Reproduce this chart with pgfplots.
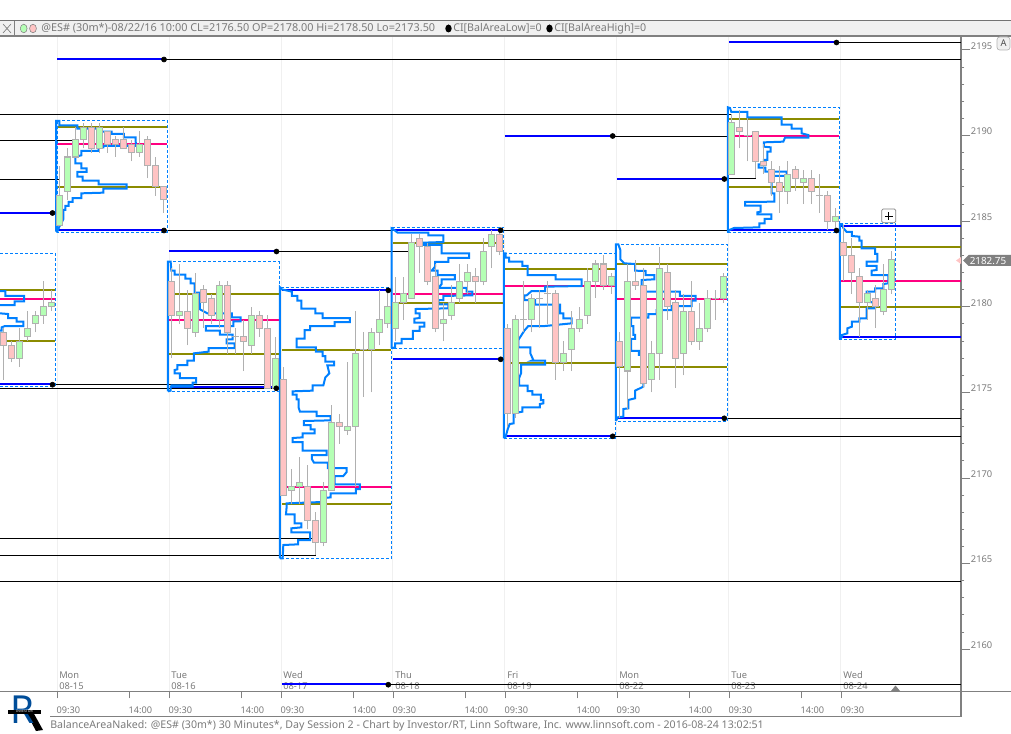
\documentclass[border=0pt]{standalone}
\usepackage{pgfplots}
\usepackage{pgfplotstable}
\usepackage{fontspec}
\pgfplotsset{compat=1.18}
\setmainfont{Noto Sans}
\definecolor{prof}{HTML}{0080FF}
\definecolor{lvl}{HTML}{0000FF}
\definecolor{olv}{HTML}{8B8B00}
\definecolor{mag}{HTML}{FF0080}
\definecolor{upc}{HTML}{B5FFB5}
\definecolor{dnc}{HTML}{FFC4C4}
\definecolor{wick}{HTML}{B0B0B0}
\definecolor{txt}{HTML}{7A7A7A}
\definecolor{axc}{HTML}{808080}
\definecolor{grd}{HTML}{F0F0F0}
% candles: x = bar number (Mon 08-15 09:30 is bar 0), body bottom/top, high, low
\pgfplotstableread{
x b t h l
-5 2177 2178 2178.75 2176.5
-4 2178.25 2178.75 2179.75 2178
-3 2179 2179.5 2179.75 2178.5
-2 2179.5 2180 2181.5 2179
-1 2180 2180.25 2181 2179.75
0 2184.75 2186.5 2188.25 2184.75
1 2186.75 2188.75 2189.25 2186.25
2 2188.75 2189.75 2190.5 2188.75
3 2189.75 2190.5 2190.75 2189.25
5 2189.25 2190.5 2190.75 2189
10 2189 2189.5 2190.25 2188.75
15 2179.5 2179.75 2182.5 2179
17 2178.5 2180.75 2182 2178.25
20 2179.25 2181.25 2181.5 2178.75
24 2177.75 2179.5 2180 2177.25
27 2175.25 2177 2178.25 2175.25
29 2169.25 2169.5 2170.5 2168.5
30 2169.5 2169.75 2171.25 2168.5
33 2166.25 2169.25 2169.75 2166
34 2169.25 2173.25 2174.25 2169.25
36 2172.75 2173 2176.75 2172.5
37 2173 2177.25 2179.75 2169.5
39 2177.5 2178.5 2178.75 2175
40 2178.5 2179.25 2181 2177.75
41 2179 2180 2181 2178.75
42 2178.75 2180.25 2181.75 2178
43 2180.25 2180.75 2181.75 2179.25
44 2180.5 2183.75 2184.25 2180.5
48 2179 2179.25 2180.25 2178
49 2179.5 2180.25 2181.25 2179.25
50 2180.5 2181.5 2182.5 2180.25
51 2181.5 2182 2182.5 2180.75
53 2181.5 2183.25 2184 2181.25
54 2183.5 2184.25 2184.5 2182.25
57 2173.75 2179.25 2179.5 2173.5
59 2179.25 2180.5 2180.75 2178.5
63 2176.75 2177.25 2178 2176.25
64 2177.5 2178.75 2179.75 2176.25
65 2178.75 2179.25 2180 2178.5
66 2179.5 2181.5 2182.25 2179
67 2181.5 2182.5 2182.75 2180.5
69 2181.25 2181.75 2182 2180.75
71 2176.25 2181.5 2182.5 2174
74 2175.75 2177.25 2178 2175
75 2177.25 2182.25 2183.5 2175.75
78 2177.25 2179.75 2180.75 2176
80 2178 2178.75 2180.25 2177.5
81 2178.75 2180.5 2181 2178.5
83 2180.5 2181.75 2182 2180.25
84 2187.75 2190.75 2191.25 2187.75
91 2186.75 2187.75 2188.5 2186
93 2187.25 2187.5 2188 2186
97 2185 2185.25 2185.75 2184.5
101 2180.25 2180.75 2181 2179.25
103 2179.75 2181 2182.5 2179.5
104 2181 2182.75 2183.25 2180.75
}\upbars
\pgfplotstableread{
x b t h l
-7 2177.75 2178.5 2178.75 2175.75
-6 2177 2177.75 2178 2176.75
4 2189.25 2190.5 2190.75 2189
6 2189.5 2190.25 2190.25 2189
7 2189.5 2189.75 2190 2188.75
8 2189.25 2189.75 2190.5 2189.25
9 2189 2189.5 2189.75 2188.5
11 2188.25 2189.75 2190 2187.5
12 2187 2188.25 2188.75 2186.5
13 2186.25 2187 2187 2185.5
14 2179.5 2181.5 2182.25 2177
16 2178.75 2179.75 2181 2177.75
18 2180.25 2181 2181.25 2178.75
19 2179.5 2180.5 2180.75 2179
21 2178.5 2181.25 2181.5 2177.25
22 2178.25 2178.25 2178.75 2177.25
23 2178 2178.25 2179.25 2176.25
25 2178.75 2179.5 2179.75 2178.25
26 2175.25 2178.75 2179.5 2175.25
28 2169 2175.75 2176.5 2169
31 2167.5 2169.5 2170.75 2167
32 2166.25 2167.5 2168 2165.5
35 2173 2173.25 2173.75 2172
38 2177.5 2177.5 2178.5 2174.75
45 2183.5 2184 2184.25 2182
46 2181.5 2183.5 2183.75 2181.25
47 2178.75 2181.75 2182.5 2178.5
52 2181.5 2181.75 2182.25 2180.25
55 2183.25 2184.25 2184.5 2183
56 2173.75 2178.75 2179 2173
58 2179.25 2179.25 2181.5 2178.5
60 2180.5 2180.5 2181 2178.75
61 2180.75 2180.75 2181.5 2179
62 2176.75 2180.75 2181 2175.75
68 2181.25 2182.5 2183 2181
70 2176.5 2178 2178.5 2173.5
72 2181.25 2181.5 2182.75 2181
73 2175.5 2181.25 2182.25 2175.25
76 2180 2182 2182.5 2179.25
77 2177 2180.25 2181 2175.25
79 2178 2179.75 2181.5 2177.75
82 2180.5 2180.5 2181 2179.25
85 2190.25 2190.5 2191.5 2189.25
86 2190 2190 2191 2188.5
87 2188.5 2190.25 2190.25 2187.5
88 2188.25 2188.5 2189.5 2187.75
89 2187.25 2188 2188.5 2186.5
90 2186.75 2187.25 2188.25 2185.5
92 2187.5 2188 2188.25 2186.75
94 2186.75 2187.5 2188 2186
95 2186.5 2186.5 2187.75 2185.5
96 2185 2186.5 2186.75 2184.5
98 2183 2183.75 2184.75 2181.5
99 2182 2183 2184 2180.75
100 2180.25 2181.75 2182.25 2178.25
102 2180 2180.5 2181.25 2178.75
}\dnbars
% overlay levels are traced in screen pixels, zt is for outlines traced on 3x crops
\pgfplotsset{
  table/px/.style={x expr=(\thisrow{x}-59.4)/8, y expr=2195-(\thisrow{y}-50)/17.12},
  table/zt/.style 2 args={x expr=(#1+\thisrow{x}/3-59.4)/8, y expr=2195-(#2+\thisrow{y}/3-50)/17.12},
  cndl/.style 2 args={draw=none, no markers, forget plot,
    error bars/.cd, y dir=plus, y explicit, error mark=none,
    error bar style={draw=#1, line width=#2}},
}
\begin{document}
\begin{tikzpicture}
\useasboundingbox (0,0) rectangle (758.25pt,549.75pt);
\begin{scope}[x=0.75pt,y=-0.75pt,yshift=549.75pt,font=\fontsize{7pt}{8pt}\selectfont,text=txt]
  \foreach \d/\n/\x in {Mon/08-15/59,Tue/08-16/171,Wed/08-17/283,Thu/08-18/395,Fri/08-19/507,Mon/08-22/619,Tue/08-23/731,Wed/08-24/843}{
    \node[anchor=west,inner sep=0pt] at (\x,675) {\d};
    \node[anchor=west,inner sep=0pt] at (\x,686) {\n};
  }
\end{scope}
\begin{axis}[
    at={(0,31.125pt)}, anchor=south west,
    scale only axis, width=720.75pt, height=491.625pt,
    xmin=-7.425, xmax=112.7, ymin=2157.53, ymax=2195.818,
    axis x line*=bottom, axis y line*=right,
    axis line style={draw=axc, line width=1pt},
    every axis y line/.append style={-},
    every axis x line/.append style={-},
    tick align=outside,
    tick style={draw=axc, line width=0.75pt},
    xtick={-0.3,8.7,13.7,22.7,27.7,36.7,41.7,50.7,55.7,64.7,69.7,78.7,83.7,92.7,97.7},
    xticklabels={09:30,14:00,09:30,14:00,09:30,14:00,09:30,14:00,09:30,14:00,09:30,14:00,09:30,14:00,09:30},
    xticklabel style={font=\fontsize{6.9pt}{8pt}\selectfont, text=txt, anchor=north west, inner sep=0pt, yshift=-6.75pt, xshift=-0.5pt},
    xtick style={/pgfplots/major tick length=5.25pt},
    ytick={2160,2165,...,2195},
    minor y tick num=4,
    ytick style={/pgfplots/major tick length=6.75pt, /pgfplots/minor tick length=2.6pt},
    yticklabel style={font=\fontsize{7pt}{8pt}\selectfont, text=txt, inner sep=0pt, xshift=3pt, yshift=3pt,
      /pgf/number format/assume math mode=true, /pgf/number format/set thousands separator={}},
    empty line=jump, unbounded coords=jump,
    clip=true,
  ]
  % session grid
  \addplot[grd, line width=0.75pt, forget plot] table[px] {
x y
57 36
57 691

169 36
169 691

281 36
281 691

393 36
393 691

505 36
505 691

617 36
617 691

729 36
729 691

841 36
841 691
};
  % naked levels, black part
  \addplot[black, line width=0.75pt, forget plot] table[px] {
x y
164 59.5
961 59.5

0 114.3
732 114.3

0 140.3
76 140.3

0 179.3
60 179.3

164 230.5
838 230.5

836 42.5
961 42.5

276 251.5
412 251.5

0 384.7
268 384.7

0 388.3
276 388.3

0 538.7
316 538.7

0 555.3
316 555.3

0 581
961 581

388 684.7
961 684.7

612 436.3
961 436.3

724 418.3
961 418.3

612 136.3
732 136.3

724 179
756 179
};
  % value area high/low
  \addplot[olv, line width=1.5pt, forget plot] table[px] {
x y
57 126.7
167 126.7

57 186.7
167 186.7

0 290
55 290

0 340.7
55 340.7

169 294
279 294

169 354
279 354

282 349.7
391 349.7

282 504
391 504

393 243
504 243

393 303
504 303

505 268.7
615 268.7

505 363
615 363

617 263.7
727 263.7

617 366.7
727 366.7

729 118.7
839 118.7

729 186.7
839 186.7

841 247
961 247

841 306.7
961 306.7
};
  % point of control
  \addplot[mag, line width=1.5pt, forget plot] table[px] {
x y
57 144
167 144

0 299
55 299

169 320
279 320

282 487
391 487

393 294
504 294

505 286
615 286

617 299
727 299

729 136
839 136

841 280.7
961 280.7
};
  % session balance area boxes
  \addplot[prof, line width=0.75pt, dash pattern=on 2.25pt off 1.5pt, forget plot] table[px] {
x y
-10 253.3
55.3 253.3
55.3 386
-10 386

57 120.7
167.3 120.7
167.3 232.3
57 232.3
57 120.7

168.3 261.7
279.3 261.7
279.3 391.3
168.3 391.3
168.3 261.7

280.7 287.3
391.7 287.3
391.7 558.3
280.7 558.3
280.7 287.3

391.7 227.3
504 227.3
504 348.3
391.7 348.3
391.7 227.3

504.3 253.3
615.7 253.3
615.7 438.3
504.3 438.3
504.3 253.3

615.7 244.3
727.3 244.3
727.3 421
615.7 421
615.7 244.3

728 107.3
839.3 107.3
839.3 232.3
728 232.3
728 107.3

840 223.3
895.3 223.3
895.3 339.3
840 339.3
840 223.3
};
  % blue naked level starts
  \addplot[lvl, line width=1.6pt, forget plot] table[px] {
x y
57 59
164 59

0 213
52 213

57 229.7
164 229.7

729 42
836 42

169 251
276 251

393 230
500 230

282 289.7
388 289.7

0 384
52 384

170 387.3
276 387.3

393 359
500 359

505 136
612 136

505.7 436
612.7 436

617 179
724 179

617 418
724 418

729 230
836 230

841 225.7
961 225.7

841 337
961 337

282 684
388 684
};
  % profile outlines, sessions 08-15 to 08-17 etc
  \addplot[prof, line width=1.5pt, forget plot] table[zt={0}{0}] {
x y
168 695
168 363
178 363
178 376
232 376
232 386
296 386
296 395
335 395
335 402
372 402
372 412
407 412
407 426
410 438
310 438
310 442
296 442
296 453
244 453
244 466
226 470
226 490
244 490
244 505
260 505
260 516
232 516
232 530
248 530
248 542
296 542
296 553
380 553
380 566
310 566
310 578
244 580
244 594
218 594
218 606
206 606
206 618
196 618
196 630
190 630
190 658
178 680
172 695
168 695
};
  \addplot[prof, line width=1.5pt, forget plot] table[zt={0}{240}] {
x y
0 153
16 153
16 168
72 168
72 184
44 184
44 195
0 195

0 220
24 222
24 234
50 234
50 245
70 245
70 258
15 258
5 262
5 272
0 272

504 454
504 65
512 65
514 92
524 92
524 104
556 104
556 116
572 116
572 130
584 130
584 158
600 158
600 208
622 220
696 220
696 232
722 232
722 244
700 244
700 258
618 258
618 272
660 272
660 284
698 284
698 298
680 298
680 310
704 310
704 324
626 324
626 335
582 340
582 362
562 362
562 375
532 375
532 388
524 390
524 400
540 400
540 414
588 414
588 428
578 428
578 440
512 440
512 452
504 454

512 436
578 436

840 955
840 142
845 148
876 155
876 168
892 168
892 182
904 182
904 206
946 206
946 220
968 220
968 234
1050 234
1050 246
1004 246
1004 258
930 258
930 270
914 270
914 296
890 296
890 322
948 322
948 335
968 335
968 348
976 348
976 365
1002 365
1002 376
982 376
988 400
976 412
970 436
938 436
938 452
878 454
878 464
890 464
890 478
896 478
896 503
900 515
950 515
950 528
992 528
992 541
912 543
912 555
932 555
932 568
944 568
944 580
908 580
908 592
878 594
878 606
908 606
908 632
980 632
980 645
936 645
936 658
942 668
984 668
984 684
1040 684
1040 696
1030 708
1004 708
1004 733
1080 733
1080 747
1068 747
1068 760
992 760
992 772
966 775
966 786
860 790
860 800
858 823
884 823
884 850
904 850
904 862
874 865
874 877
930 877
930 900
894 900
894 913
850 915
848 955
840 955
};
  \addplot[prof, line width=1.5pt, forget plot] table[zt={385}{220}] {
x y
20 385
20 25
25 28
38 38
130 38
130 46
175 46
175 66
115 68
115 75
170 75
170 100
252 100
252 114
190 114
190 126
150 126
150 140
140 152
158 152
158 165
210 165
210 178
170 178
170 192
160 204
245 204
245 215
262 215
262 226
175 228
175 240
160 240
160 253
190 253
190 265
92 267
92 280
104 280
104 294
88 296
88 308
118 308
118 320
104 320
104 333
84 333
84 357
50 357
50 370
30 370
30 382
20 385

357 655
357 100
362 100
362 113
372 113
372 125
412 125
412 138
428 138
428 165
512 165
512 178
590 178
590 198
480 200
480 213
440 213
425 226
418 226
418 240
450 240
450 254
525 254
525 280
535 280
535 295
560 295
560 310
480 318
430 318
418 332
400 360
400 382
436 382
436 400
445 420
440 422
480 422
480 434
408 434
408 460
402 475
402 497
428 497
428 513
442 513
442 524
468 524
468 540
475 540
475 550
465 552
465 562
412 562
412 575
386 580
386 610
374 612
368 628
362 650
357 655

693 603
693 73
700 73
706 90
706 118
718 130
750 132
750 152
782 153
782 165
808 165
808 178
770 180
770 215
885 215
885 228
932 228
932 242
920 242
920 258
860 258
860 270
815 270
815 282
790 282
790 293
738 293
738 318
745 318
745 345
750 345
750 357
738 357
738 393
762 393
762 405
775 405
775 500
750 512
750 535
730 540
730 565
715 567
715 590
698 592
693 603
};
  \addplot[prof, line width=1.5pt, forget plot] table[zt={720}{30}] {
x y
24 607
24 232
30 234
34 246
82 246
82 262
185 262
185 284
215 284
215 296
245 296
245 310
265 315
265 323
195 323
190 335
132 337
132 350
152 352
152 365
142 365
142 390
132 390
132 403
116 403
116 413
136 413
136 425
200 425
200 438
155 438
155 490
163 490
163 515
75 516
75 527
122 527
122 545
112 547
112 553
154 553
154 567
134 567
134 580
118 580
118 592
42 594
28 600
24 607

360 928
360 582
366 582
370 594
380 606
396 606
396 618
418 620
418 632
425 632
425 655
465 655
465 672
472 672
472 695
440 695
440 708
470 708
470 720
455 722
455 735
505 735
505 760
490 762
490 775
465 775
465 785
440 785
440 815
465 818
465 835
440 835
440 865
418 865
418 875
396 875
396 890
382 895
382 910
366 915
366 920
360 928
};
  % wicks
  \addplot[cndl={wick}{0.75pt}] table[x=x, y=l, y error expr=\thisrow{h}-\thisrow{l}] {\upbars};
  \addplot[cndl={wick}{0.75pt}] table[x=x, y=l, y error expr=\thisrow{h}-\thisrow{l}] {\dnbars};
  % body border then fill
  \addplot[cndl={wick}{5.2pt}] table[x=x, y expr=\thisrow{b}-0.03, y error expr=\thisrow{t}-\thisrow{b}+0.06] {\upbars};
  \addplot[cndl={wick}{5.2pt}] table[x=x, y expr=\thisrow{b}-0.03, y error expr=\thisrow{t}-\thisrow{b}+0.06] {\dnbars};
  \addplot[cndl={upc}{3.7pt}] table[x=x, y expr=\thisrow{b}+0.03, y error expr={max(\thisrow{t}-\thisrow{b}-0.06,0)}] {\upbars};
  \addplot[cndl={dnc}{3.7pt}] table[x=x, y expr=\thisrow{b}+0.03, y error expr={max(\thisrow{t}-\thisrow{b}-0.06,0)}] {\dnbars};
  % level end dots
  \addplot[only marks, mark=*, mark size=1.9pt, black, forget plot] table[px] {
x y
164 59.5
52.5 213
164 230.5
836.5 42.5
276.5 251.5
500.7 230.3
388.3 290.3
52.5 384.7
276.3 388.3
500.7 359.3
612.7 136
612.7 436.3
724.3 179
724.3 418.3
836.5 230.5
388.3 684.7
};
\end{axis}
\begin{scope}[x=0.75pt,y=-0.75pt,yshift=549.75pt,text=txt]
  % title strip
  \fill[grd] (0,20) rectangle (1011,36);
  \draw[draw=axc!90!black,line width=1.1pt] (0,20.5) -- (1011,20.5);
  \draw[draw=axc,line width=0.9pt] (0,36) -- (1011,36);
  \draw[axc,line width=0.6pt] (14.5,21) -- (14.5,36);
  \draw[axc,line width=0.5pt] (3,24) -- (11,33) (3,33) -- (11,24);
  \fill[upc,draw=axc,line width=0.4pt] (23.7,28.5) ellipse [x radius=3.4,y radius=4.3];
  \fill[dnc,draw=axc,line width=0.4pt] (33,28.5) ellipse [x radius=3.4,y radius=4.3];
  \node[anchor=west,inner sep=0pt,font=\fontsize{8.15pt}{9pt}\selectfont] at (41,28.7) {@ES\# (30m*)-08/22/16 10:00 CL=2176.50 OP=2178.00 Hi=2178.50 Lo=2173.50};
  \fill[black] (448.5,28.5) ellipse [x radius=3.2,y radius=4];
  \node[anchor=west,inner sep=0pt,font=\fontsize{8pt}{9pt}\selectfont] at (453,28.7) {CI[BalAreaLow]=0};
  \fill[black] (549.5,28.5) ellipse [x radius=3.2,y radius=4];
  \node[anchor=west,inner sep=0pt,font=\fontsize{8pt}{9pt}\selectfont] at (554,28.7) {CI[BalAreaHigh]=0};
  % bottom frame
  \draw[axc,line width=1pt] (961,691.5) -- (1011,691.5);
  \draw[axc,line width=1pt] (961,691) -- (961,716.5);
  \draw[axc,line width=0.8pt] (50,716.5) -- (961,716.5);
  \fill[axc] (891,691) -- (895.5,685.5) -- (900,691) -- cycle;
  \node[anchor=west,inner sep=0pt,font=\fontsize{7.95pt}{9pt}\selectfont] at (50,726) {BalanceAreaNaked: @ES\# (30m*) 30 Minutes*, Day Session 2 - Chart by Investor/RT, Linn Software, Inc. www.linnsoft.com - 2016-08-24 13:02:51};
  % price flag and buttons
  \fill[dnc] (956,260.5) -- (961,257) -- (961,264) -- cycle;
  \fill[axc] (963,260.5) -- (968.5,255) -- (1011,255) -- (1011,266) -- (968.5,266) -- cycle;
  \node[anchor=west,inner sep=0pt,text=white,font=\fontsize{7.4pt}{9pt}\selectfont] at (969.5,260.7) {2182.75};
  \draw[axc,fill=white,line width=0.5pt,rounded corners=1pt] (881.7,209) rectangle (895.7,222.7);
  \draw[black,line width=0.5pt] (885,216) -- (892.5,216) (888.7,212.2) -- (888.7,219.8);
  \draw[axc!60,fill=grd,line width=0.5pt,rounded corners=2pt] (997,37) rectangle (1010,50);
  \node[inner sep=0pt,text=black!70,font=\fontsize{7pt}{8pt}\selectfont] at (1003.5,43.5) {A};
  % logo
  \fill[black] (26,712) -- (33,712) -- (43,730) -- (36,731) -- cycle;
  \node[inner sep=0pt,text=prof!60!black,font=\fontsize{29pt}{30pt}\selectfont\bfseries] at (23,709.5) {R};
  \fill[black] (8,709.5) rectangle (41,713.5);
  \node[inner sep=0pt,text=white,font=\fontsize{2.6pt}{3pt}\selectfont] at (24.5,711.5) {INVESTOR};
\end{scope}
\end{tikzpicture}
\end{document}
